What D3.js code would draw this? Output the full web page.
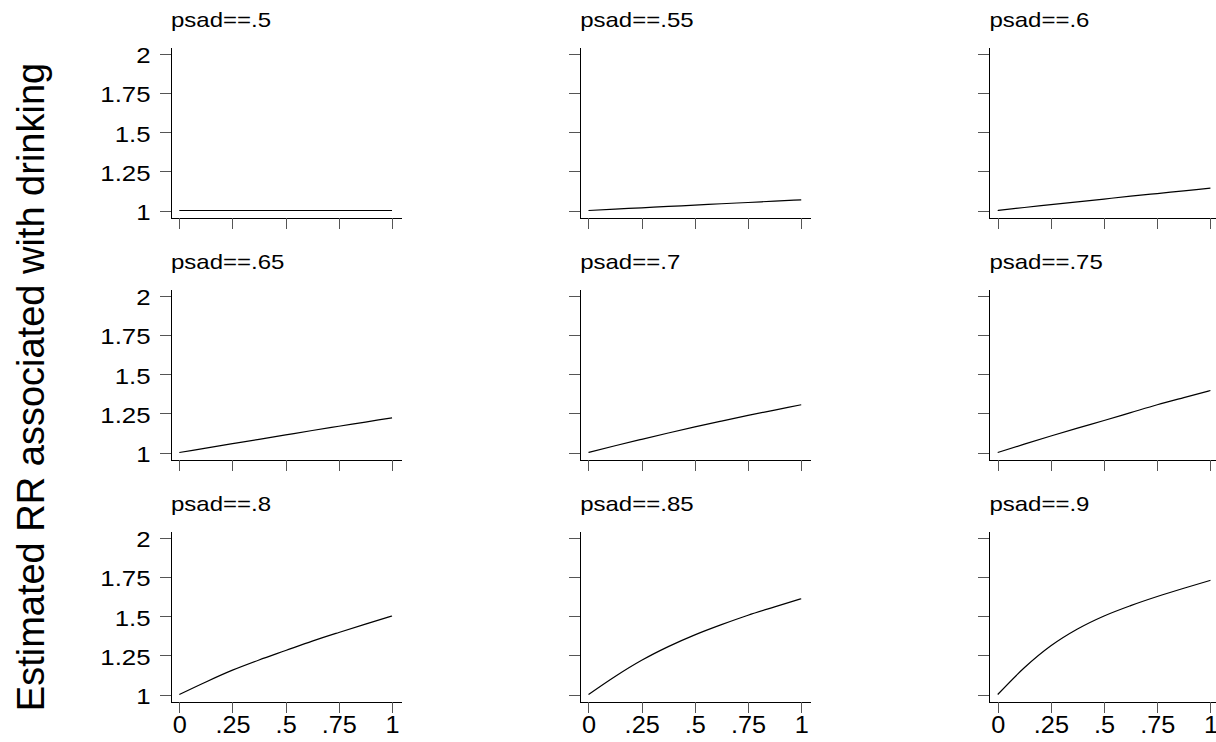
<!DOCTYPE html>
<html>
<head>
<meta charset="utf-8">
<script src="https://cdn.jsdelivr.net/npm/d3@7"></script>
<style>
  body { margin: 0; background: #fff; }
  svg { display: block; font-family: "Liberation Sans", Arial, sans-serif; }
</style>
</head>
<body>
<div id="chart"></div>
<script>
// Data: share drinking on the x axis, estimated RR per panel
const panelTitles = ["psad==.5", "psad==.55", "psad==.6",
                     "psad==.65", "psad==.7", "psad==.75",
                     "psad==.8", "psad==.85", "psad==.9"];
const shareValues = [0, .125, .25, .375, .5, .625, .75, .875, 1];
const rr_50 = [1, 1, 1, 1, 1, 1, 1, 1, 1];
const rr_55 = [1, 1.009, 1.017, 1.026, 1.034, 1.043, 1.051, 1.06, 1.068];
const rr_60 = [1, 1.019, 1.037, 1.055, 1.073, 1.091, 1.108, 1.125, 1.142];
const rr_65 = [1, 1.028, 1.056, 1.084, 1.112, 1.14, 1.167, 1.194, 1.221];
const rr_70 = [1, 1.043, 1.084, 1.124, 1.163, 1.2, 1.236, 1.27, 1.304];
const rr_75 = [1, 1.053, 1.105, 1.155, 1.204, 1.254, 1.304, 1.35, 1.395];
const rr_80 = [1, 1.08, 1.155, 1.22, 1.28, 1.34, 1.395, 1.448, 1.5];
const rr_85 = [1, 1.115, 1.218, 1.305, 1.38, 1.445, 1.505, 1.558, 1.61];
const rr_90 = [1, 1.17, 1.31, 1.417, 1.5, 1.566, 1.624, 1.677, 1.727];
const panelValues = [rr_50, rr_55, rr_60, rr_65, rr_70, rr_75, rr_80, rr_85, rr_90];

const yTicks = [1, 1.25, 1.5, 1.75, 2];
const xTicks = [0, .25, .5, .75, 1];
const yLabel = "Estimated RR associated with drinking";

const W = 1216, H = 742;

// layout of the 3x3 grid
const colLeft = c => 171 + 409.2 * c;   // y-axis line of each column
const rowTop = r => 53.5 + 242 * r;     // y position of value 2 in each row
const plotW = 230.6, plotPx = 157;

const svg = d3.select("#chart")
    .append("svg")
    .attr("width", W)
    .attr("height", H);

const fmtX = d => d === 0 ? "0" : d === 1 ? "1" : String(d).replace(/^0/, "");

panelValues.forEach((vals, i) => {
    const r = Math.floor(i / 3), c = i % 3;
    const left = colLeft(c), top = rowTop(r);

    const x = d3.scaleLinear().domain([-0.039, 1.045]).range([left, left + plotW]);
    const y = d3.scaleLinear()
        .domain([1 - 7.5 / plotPx, 2 + 6.5 / plotPx])
        .range([top + plotPx + 7.5, top - 6.5]);

    const g = svg.append("g");

    // y axis
    const yAxis = g.append("g")
        .attr("transform", `translate(${left},0)`)
        .call(d3.axisLeft(y).tickValues(yTicks).tickSize(11).tickSizeOuter(0)
            .tickFormat(c === 0 ? d3.format("") : () => ""));
    yAxis.select(".domain").attr("stroke", "#000").attr("shape-rendering", "crispEdges");
    yAxis.selectAll(".tick line").attr("stroke", "#555").attr("shape-rendering", "crispEdges");
    yAxis.selectAll(".tick text")
        .attr("x", 0).attr("dy", "0.42em")
        .attr("transform", "translate(-20.5,0) scale(1.2,1)")
        .attr("fill", "#000")
        .style("font-size", "21.5px");

    // x axis
    const xAxis = g.append("g")
        .attr("transform", `translate(0,${top + plotPx + 7.5})`)
        .call(d3.axisBottom(x).tickValues(xTicks).tickSize(11).tickSizeOuter(0)
            .tickFormat(r === 2 ? fmtX : () => ""));
    xAxis.select(".domain").attr("stroke", "#000").attr("shape-rendering", "crispEdges");
    xAxis.selectAll(".tick text")
        .attr("y", 0).attr("dy", 0)
        .attr("transform", "translate(0,30.5) scale(1.1,1)")
        .attr("fill", "#000")
        .style("font-size", "23px");
    xAxis.selectAll(".tick line").attr("stroke", "#555").attr("shape-rendering", "crispEdges");

    // panel title
    g.append("text")
        .attr("transform", `translate(${left},${top - 26.7}) scale(1.2,1)`)
        .style("font-size", "20px")
        .attr("fill", "#000")
        .text(panelTitles[i]);

    // curve
    const pts = shareValues.map((s, k) => [s, vals[k]]);
    g.append("path")
        .datum(pts)
        .attr("fill", "none")
        .attr("stroke", "#000")
        .attr("stroke-width", 1.2)
        .attr("d", d3.line()
            .x(d => x(d[0]))
            .y(d => y(d[1]))
            .curve(d3.curveMonotoneX));
});

// shared y title
svg.append("text")
    .attr("transform", "translate(44,387) rotate(-90)")
    .attr("text-anchor", "middle")
    .style("font-size", "38px")
    .attr("fill", "#000")
    .text(yLabel);
</script>
</body>
</html>
